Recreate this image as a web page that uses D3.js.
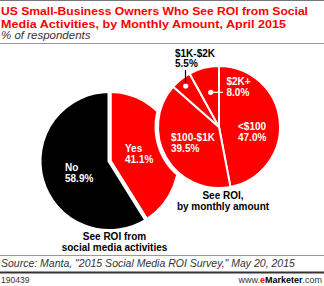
<!DOCTYPE html>
<html>
<head>
<meta charset="utf-8">
<script src="https://cdn.jsdelivr.net/npm/d3@7"></script>
<style>
  body { margin: 0; background: #fff; }
  svg { display: block; }
</style>
</head>
<body>
<svg></svg>
<script>
const size = {w: 324, h: 286};
const svg = d3.select('svg').attr('width', size.w).attr('height', size.h);

// data
const titleLines = ['US Small-Business Owners Who See ROI from Social',
                    'Media Activities, by Monthly Amount, April 2015'];
const subtitle = '% of respondents';
const roiCats = ['Yes', 'No'];
const roiVals = [41.1, 58.9];
const amountCats = ['<$100', '$100-$1K', '$1K-$2K', '$2K+'];
const amountVals = [47.0, 39.5, 5.5, 8.0];
const source = 'Source: Manta, "2015 Social Media ROI Survey," May 20, 2015';
const chartId = '190439';

const red = '#ff0000';
const boldFont = '"Liberation Sans", Arial, sans-serif';
const plainFont = '"Liberation Sans", Arial, sans-serif';

// ---------- header ----------
svg.append('line').attr('x1', 0).attr('x2', size.w).attr('y1', 0.5).attr('y2', 0.5)
    .attr('stroke', '#777').attr('stroke-width', 1);

const titleWidths = [307, 285];
svg.append('g').selectAll('text')
    .data(titleLines)
    .join('text')
    .attr('x', 1)
    .attr('y', (d, i) => 15 + i * 13)
    .attr('fill', red)
    .attr('textLength', (d, i) => titleWidths[i])
    .attr('lengthAdjust', 'spacingAndGlyphs')
    .style('font-family', boldFont)
    .style('font-weight', 'bold')
    .style('font-size', '11.5px')
    .text(d => d);

svg.append('text')
    .attr('x', 1).attr('y', 39)
    .attr('fill', '#333')
    .style('font-family', plainFont)
    .style('font-style', 'italic')
    .style('font-size', '11.5px')
    .text(subtitle);

svg.append('line').attr('x1', 0).attr('x2', size.w).attr('y1', 43.5).attr('y2', 43.5)
    .attr('stroke', '#999').attr('stroke-width', 1);

// ---------- left pie: see ROI yes / no ----------
const left = {x: 109.5, y: 161, r: 70};
const leftPie = d3.pie().sort(null).startAngle(0).endAngle(2 * Math.PI);
const leftArc = d3.arc().innerRadius(0).outerRadius(left.r);
const leftColor = d3.scaleOrdinal().domain(roiCats).range([red, '#000']);

const leftG = svg.append('g').attr('transform', `translate(${left.x},${left.y})`);
leftG.selectAll('path')
    .data(leftPie(roiVals))
    .join('path')
    .attr('d', leftArc)
    .attr('fill', (d, i) => leftColor(roiCats[i]))
    .attr('stroke', '#fff')
    .attr('stroke-width', 4)
    .attr('stroke-linejoin', 'miter');

// ---------- right pie: by monthly amount ----------
const right = {x: 219, y: 127, r: 61};
const rightPie = d3.pie().sort(null).startAngle(0).endAngle(2 * Math.PI);
const rightArc = d3.arc().innerRadius(0).outerRadius(right.r);

const rightG = svg.append('g').attr('transform', `translate(${right.x},${right.y})`);
rightG.append('circle').attr('r', right.r + 3.5).attr('fill', '#fff');
rightG.selectAll('path')
    .data(rightPie(amountVals))
    .join('path')
    .attr('d', rightArc)
    .attr('fill', red)
    .attr('stroke', '#fff')
    .attr('stroke-width', 2);

// ---------- labels ----------
function label(g, x, y, lines, color, anchor = 'start') {
    g.append('text')
        .attr('x', x).attr('y', y)
        .attr('fill', color)
        .attr('text-anchor', anchor)
        .style('font-family', boldFont)
        .style('font-weight', 'bold')
        .style('font-size', '10px')
        .selectAll('tspan')
        .data(lines)
        .join('tspan')
        .attr('x', x)
        .attr('dy', (d, i) => i ? 10.5 : 0)
        .text(d => d);
}

// left pie slice labels, offsets from its centre
label(leftG, 15.5, -9, [roiCats[0], roiVals[0].toFixed(1) + '%'], '#fff');
label(leftG, -44.5, 10, [roiCats[1], roiVals[1].toFixed(1) + '%'], '#fff');

// right pie slice labels
label(rightG, 19, 3, [amountCats[0], amountVals[0].toFixed(1) + '%'], '#fff');
label(rightG, -48, 14, [amountCats[1], amountVals[1].toFixed(1) + '%'], '#fff');
label(rightG, -44, -70.5, [amountCats[2], amountVals[2].toFixed(1) + '%'], '#000');
label(rightG, 7.5, -42, [amountCats[3], amountVals[3].toFixed(1) + '%'], '#fff');

// leader lines with dots
rightG.append('line').attr('x1', -33.5).attr('x2', -33.5).attr('y1', -57).attr('y2', -41)
    .attr('stroke', '#000').attr('stroke-width', 1.2);
rightG.append('circle').attr('cx', -33.3).attr('cy', -41).attr('r', 2.6).attr('fill', '#fff');
rightG.append('line').attr('x1', -8.3).attr('x2', 4).attr('y1', -34.7).attr('y2', -34.7)
    .attr('stroke', '#fff').attr('stroke-width', 1.2);
rightG.append('circle').attr('cx', -8.3).attr('cy', -34.7).attr('r', 2.6).attr('fill', '#fff');

// pie captions
label(svg, 114.5, 240, ['See ROI from', 'social media activities'], '#000', 'middle');
label(svg, 223, 199, ['See ROI,', 'by monthly amount'], '#000', 'middle');

// ---------- footer ----------
svg.append('line').attr('x1', 0).attr('x2', size.w).attr('y1', 255.5).attr('y2', 255.5)
    .attr('stroke', '#999').attr('stroke-width', 1);
svg.append('text')
    .attr('x', 1).attr('y', 267)
    .attr('fill', '#333')
    .style('font-family', plainFont)
    .style('font-style', 'italic')
    .style('font-size', '10.5px')
    .text(source);
svg.append('line').attr('x1', 0).attr('x2', size.w).attr('y1', 272.5).attr('y2', 272.5)
    .attr('stroke', '#333').attr('stroke-width', 2);
svg.append('text')
    .attr('x', 1).attr('y', 283)
    .attr('fill', '#333')
    .style('font-family', plainFont)
    .style('font-size', '8.5px')
    .text(chartId);

const brand = svg.append('text')
    .attr('x', 322).attr('y', 283)
    .attr('text-anchor', 'end')
    .attr('fill', '#333')
    .style('font-family', plainFont)
    .style('font-size', '9px');
brand.append('tspan').text('www.');
brand.append('tspan').attr('fill', red).style('font-weight', 'bold').text('e');
brand.append('tspan').attr('fill', '#000').style('font-weight', 'bold').text('Marketer');
brand.append('tspan').text('.com');
</script>
</body>
</html>
